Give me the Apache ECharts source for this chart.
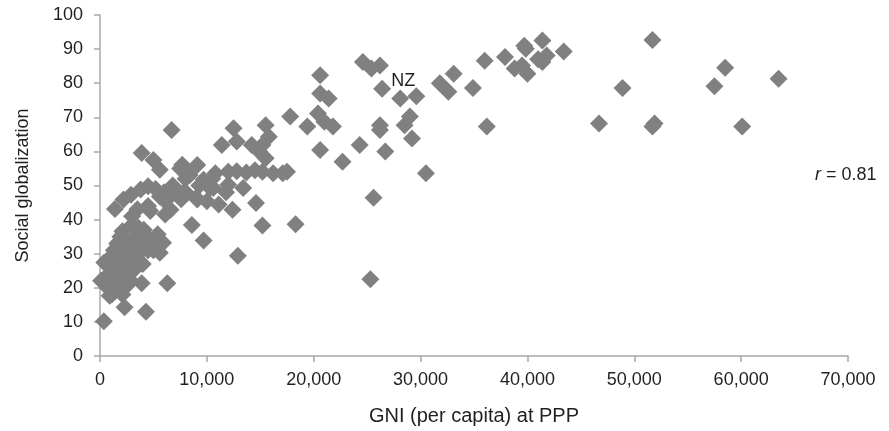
<!DOCTYPE html>
<html>
<head>
<meta charset="utf-8">
<script src="https://cdn.jsdelivr.net/npm/echarts@6/dist/echarts.min.js"></script>
<style>
html,body{margin:0;padding:0;background:#fff;}
#chart{width:889px;height:431px;}
</style>
</head>
<body>
<div id="chart"></div>
<script>
// GNI per capita at PPP (x) and social globalization index (y)
const gni = [
  63500, 60100, 58500, 57500, 51900, 51700, 51700, 48900, 46700, 43400,
  41800, 41400, 41400, 41000, 40000, 39500, 39850, 39700, 38800, 37900,
  36200, 36000, 34900, 33100, 32600, 31800, 30500,
  24600, 25400, 26200, 20600, 20600, 21400, 26400, 29600, 17800, 20400,
  19400, 21000, 21800, 26200, 26200, 29000, 28500, 29200, 20600, 22700,
  24300, 26700, 25600, 25300,
  12500, 11400, 12800, 15500, 15800, 14200, 15200, 14900, 15500,
  9100, 10800, 12000, 12800, 13700, 14500, 15200, 16200, 17100, 17500,
  13400, 14600, 12400, 9700, 10300, 12000, 10000, 9000,
  8600, 9700, 12900, 15200, 18300, 6700,
  3900, 5000, 5600, 7700, 8400, 7900, 7200, 6100, 6600, 6100,
  4700, 5600, 9100, 10600, 11100,
  1400, 2200, 2900, 3800, 4500,
  360, 2300, 4300, 3900, 6300, 350, 100, 700, 900, 1800,
  2500, 1100, 400, 3200, 2900, 3600, 2100, 5400, 5900, 5600,
  1200, 1500, 1700, 2000, 2200, 2500, 2700, 3000, 3200, 3400,
  3600, 3800, 4000, 4200, 4500, 1000, 1300, 1600, 1900, 2300,
  2600, 2900, 3100, 3300, 3500, 4100, 4700, 5000, 800, 1400,
  2100, 2000, 1100, 2800, 3600, 4400,
  5200, 6000, 6500, 7000, 7500, 7600, 8000, 8000, 6800, 3000,
  4500, 3500, 11800, 10500, 9300
];
const social = [
  81.3, 67.3, 84.5, 79.1, 68.2, 67.3, 92.7, 78.6, 68.2, 89.3,
  88.1, 86.2, 92.5, 87.0, 82.8, 85.2, 90.1, 91.0, 84.3, 87.7,
  67.3, 86.6, 78.6, 82.8, 77.5, 80.0, 53.6,
  86.2, 84.3, 85.2, 82.3, 77.0, 75.5, 78.4, 76.2, 70.2, 71.1,
  67.3, 68.7, 67.3, 67.7, 66.3, 70.2, 67.7, 63.8, 60.4, 57.0,
  61.9, 60.0, 46.4, 22.5,
  66.8, 61.9, 62.9, 67.7, 64.3, 61.9, 61.9, 60.0, 58.0,
  56.0, 53.6, 54.0, 54.2, 53.8, 54.5, 54.0, 53.6, 53.6, 54.0,
  49.3, 44.9, 42.9, 51.7, 49.3, 50.2, 45.4, 46.4,
  38.4, 33.9, 29.4, 38.3, 38.6, 66.3,
  59.5, 57.5, 54.6, 56.1, 53.1, 48.3, 47.3, 45.4, 42.9, 41.5,
  42.5, 46.8, 45.9, 49.3, 44.4,
  43.1, 45.9, 47.3, 48.8, 49.8,
  10.2, 14.3, 13.0, 21.3, 21.3, 21.6, 22.1, 20.1, 17.7, 19.2,
  20.6, 25.5, 27.4, 28.9, 38.1, 37.6, 36.6, 35.7, 33.2, 30.3,
  22.0, 24.0, 27.0, 30.0, 32.0, 34.0, 28.0, 31.0, 33.0, 35.0,
  30.0, 32.0, 27.0, 34.0, 31.0, 29.0, 31.0, 33.0, 35.0, 26.0,
  24.0, 22.0, 25.0, 26.0, 28.0, 37.0, 33.0, 31.0, 24.0, 19.0,
  18.0, 22.0, 18.0, 30.0, 34.0, 35.0,
  49.0, 48.0, 47.0, 49.0, 55.0, 46.0, 48.0, 52.0, 50.0, 41.0,
  44.0, 43.0, 48.0, 52.0, 50.0
];
// labelled country
const labelNames = ['NZ'];
const labelGni = [28100];
const labelSocial = [75.5];

const xTickValues = [0, 10000, 20000, 30000, 40000, 50000, 60000, 70000];
const yTickValues = [0, 10, 20, 30, 40, 50, 60, 70, 80, 90, 100];
const corrText = '0.81';

const FONT = '"Liberation Sans", Arial, sans-serif';
const TXT = '#231f20';
const AXIS = '#a8a8a8';
const MARK = '#808080';

function commas(v) {
  return String(v).replace(/\B(?=(\d{3})+(?!\d))/g, ',');
}

const points = gni.map((g, i) => [g, social[i]]);
const labelled = labelGni.map((g, i) => ({ value: [g, labelSocial[i]], name: labelNames[i] }));

const chart = echarts.init(document.getElementById('chart'), null, { renderer: 'canvas' });
chart.setOption({
  animation: false,
  backgroundColor: '#ffffff',
  grid: { left: 100, right: 41, top: 15, bottom: 72, containLabel: false },
  xAxis: {
    type: 'value',
    min: xTickValues[0],
    max: xTickValues[xTickValues.length - 1],
    interval: 10000,
    name: 'GNI (per capita) at PPP',
    nameLocation: 'middle',
    nameGap: 50,
    nameTextStyle: { color: TXT, fontSize: 20, fontFamily: FONT },
    axisLine: { show: true, onZero: false, lineStyle: { color: AXIS, width: 1.5 } },
    axisTick: { show: true, inside: false, length: 6, lineStyle: { color: AXIS, width: 1.5 } },
    axisLabel: { color: TXT, fontSize: 18, fontFamily: FONT, margin: 15, formatter: v => commas(v) },
    splitLine: { show: false }
  },
  yAxis: {
    type: 'value',
    min: yTickValues[0],
    max: yTickValues[yTickValues.length - 1],
    interval: 10,
    name: 'Social globalization',
    nameLocation: 'middle',
    nameGap: 68,
    nameRotate: 90,
    nameTextStyle: { color: TXT, fontSize: 18, fontFamily: FONT },
    axisLine: { show: true, onZero: false, lineStyle: { color: AXIS, width: 1.5 } },
    axisTick: { show: true, inside: false, length: 6, lineStyle: { color: AXIS, width: 1.5 } },
    axisLabel: { color: TXT, fontSize: 18, fontFamily: FONT, margin: 17 },
    splitLine: { show: false }
  },
  series: [
    {
      type: 'scatter',
      symbol: 'diamond',
      symbolSize: 18,
      itemStyle: { color: MARK, opacity: 1 },
      data: points,
      z: 2
    },
    {
      type: 'scatter',
      symbol: 'diamond',
      symbolSize: 18,
      itemStyle: { color: MARK, opacity: 1 },
      data: labelled,
      label: {
        show: true,
        position: 'top',
        distance: 0,
        offset: [3, 0],
        formatter: p => p.name,
        color: TXT,
        fontSize: 18,
        fontFamily: FONT
      },
      z: 3
    }
  ],
  graphic: [
    {
      type: 'text',
      left: 815,
      top: 166,
      style: {
        text: '{i|r} = ' + corrText,
        fill: TXT,
        font: '18px ' + FONT,
        rich: {
          i: { fontStyle: 'italic', fontSize: 18, fontFamily: FONT, fill: TXT }
        }
      }
    }
  ]
});
</script>
</body>
</html>
